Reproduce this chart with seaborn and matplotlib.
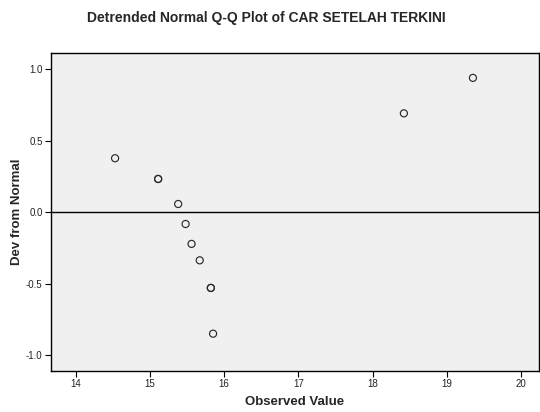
import matplotlib
matplotlib.use("Agg")
import matplotlib.pyplot as plt
import seaborn as sns
import pandas as pd

observed = [14.53, 15.11, 15.11, 15.38, 15.48, 15.56, 15.67, 15.82, 15.82, 15.85, 18.42, 19.35]
dev_from_normal = [0.378, 0.233, 0.233, 0.058, -0.082, -0.221, -0.336, -0.529, -0.529, -0.849, 0.692, 0.94]
x_ticks = [14, 15, 16, 17, 18, 19, 20]
y_ticks = [-1.0, -0.5, 0.0, 0.5, 1.0]

df = pd.DataFrame({"Observed Value": observed, "Dev from Normal": dev_from_normal})

sns.set_style("ticks")
plt.rcParams["font.family"] = ["Liberation Sans", "DejaVu Sans"]

fig = plt.figure(figsize=(5.4, 4.12), dpi=100)
ax = fig.add_axes([51 / 540, 1 - 371 / 412, 488 / 540, 318 / 412])
ax.set_facecolor("#f0f0f0")

ax.axhline(0, color="black", lw=1.0, zorder=1)
sns.scatterplot(data=df, x="Observed Value", y="Dev from Normal", ax=ax,
                marker="o", s=26, facecolor="none", edgecolor="#2a2a2a",
                linewidth=0.85, zorder=3)

ax.set_xlim(13.667, 20.24)
ax.set_ylim(-1.11, 1.114)
ax.set_xticks(x_ticks)
ax.set_xticklabels([str(t) for t in x_ticks])
ax.set_yticks(y_ticks)
ax.set_yticklabels([f"{t:.1f}" for t in y_ticks])
ax.tick_params(axis="both", labelsize=7, length=4, width=0.8, color="black",
               labelcolor="#222222", pad=2)

for s in ax.spines.values():
    s.set_color("black")
    s.set_linewidth(1.0)

ax.set_xlabel("Observed Value", fontsize=9.5, fontweight="bold", labelpad=5)
ax.set_ylabel("Dev from Normal", fontsize=9.5, fontweight="bold", labelpad=2)

fig.text(266 / 540, 1 - 18 / 412, "Detrended Normal Q-Q Plot of CAR SETELAH TERKINI",
         ha="center", va="center", fontsize=10, fontweight="bold")

fig.savefig("out.png", dpi=100, facecolor="white")
